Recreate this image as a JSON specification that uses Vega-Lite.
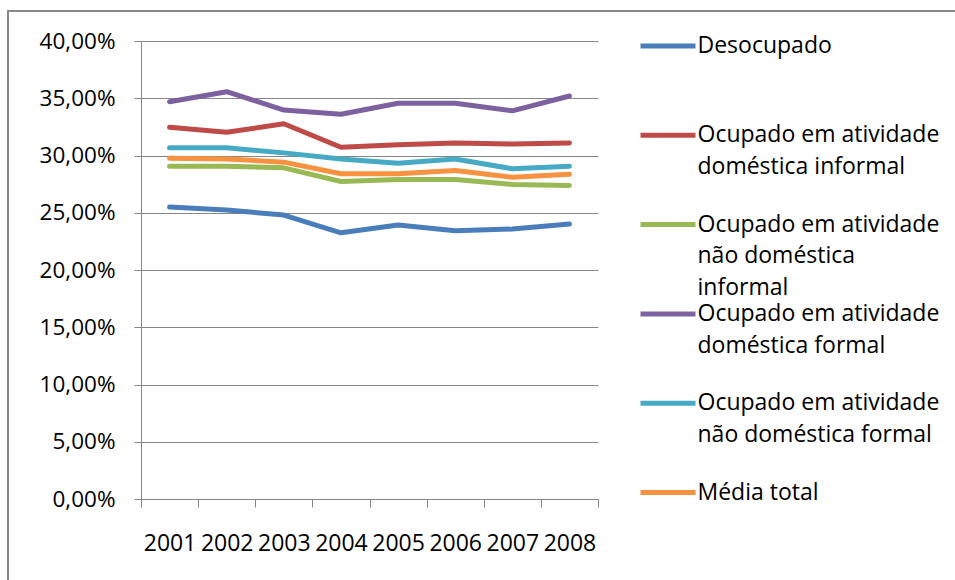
{
  "$schema": "https://vega.github.io/schema/vega-lite/v6.json",
  "width": 457,
  "height": 458,
  "autosize": {"type": "none"},
  "padding": {"left": 141, "top": 41, "right": 357, "bottom": 81},
  "background": "white",
  "config": {"font": "Open Sans", "view": {"stroke": null}, "style": {"guide-label": {"lineHeight": 31.7}}},
  "data": {
    "values": [
      {"ano": "2001", "categoria": "Desocupado", "valor": 25.5},
      {"ano": "2002", "categoria": "Desocupado", "valor": 25.24},
      {"ano": "2003", "categoria": "Desocupado", "valor": 24.8},
      {"ano": "2004", "categoria": "Desocupado", "valor": 23.25},
      {"ano": "2005", "categoria": "Desocupado", "valor": 23.93},
      {"ano": "2006", "categoria": "Desocupado", "valor": 23.43},
      {"ano": "2007", "categoria": "Desocupado", "valor": 23.58},
      {"ano": "2008", "categoria": "Desocupado", "valor": 24.01},
      {"ano": "2001", "categoria": "Ocupado em atividade doméstica informal", "valor": 32.47},
      {"ano": "2002", "categoria": "Ocupado em atividade doméstica informal", "valor": 32.03},
      {"ano": "2003", "categoria": "Ocupado em atividade doméstica informal", "valor": 32.77},
      {"ano": "2004", "categoria": "Ocupado em atividade doméstica informal", "valor": 30.72},
      {"ano": "2005", "categoria": "Ocupado em atividade doméstica informal", "valor": 30.93},
      {"ano": "2006", "categoria": "Ocupado em atividade doméstica informal", "valor": 31.1},
      {"ano": "2007", "categoria": "Ocupado em atividade doméstica informal", "valor": 31.0},
      {"ano": "2008", "categoria": "Ocupado em atividade doméstica informal", "valor": 31.1},
      {"ano": "2001", "categoria": "Ocupado em atividade não doméstica informal", "valor": 29.07},
      {"ano": "2002", "categoria": "Ocupado em atividade não doméstica informal", "valor": 29.07},
      {"ano": "2003", "categoria": "Ocupado em atividade não doméstica informal", "valor": 28.92},
      {"ano": "2004", "categoria": "Ocupado em atividade não doméstica informal", "valor": 27.73},
      {"ano": "2005", "categoria": "Ocupado em atividade não doméstica informal", "valor": 27.9},
      {"ano": "2006", "categoria": "Ocupado em atividade não doméstica informal", "valor": 27.9},
      {"ano": "2007", "categoria": "Ocupado em atividade não doméstica informal", "valor": 27.47},
      {"ano": "2008", "categoria": "Ocupado em atividade não doméstica informal", "valor": 27.38},
      {"ano": "2001", "categoria": "Ocupado em atividade doméstica formal", "valor": 34.7},
      {"ano": "2002", "categoria": "Ocupado em atividade doméstica formal", "valor": 35.57},
      {"ano": "2003", "categoria": "Ocupado em atividade doméstica formal", "valor": 33.97},
      {"ano": "2004", "categoria": "Ocupado em atividade doméstica formal", "valor": 33.6},
      {"ano": "2005", "categoria": "Ocupado em atividade doméstica formal", "valor": 34.56},
      {"ano": "2006", "categoria": "Ocupado em atividade doméstica formal", "valor": 34.56},
      {"ano": "2007", "categoria": "Ocupado em atividade doméstica formal", "valor": 33.9},
      {"ano": "2008", "categoria": "Ocupado em atividade doméstica formal", "valor": 35.2},
      {"ano": "2001", "categoria": "Ocupado em atividade não doméstica formal", "valor": 30.67},
      {"ano": "2002", "categoria": "Ocupado em atividade não doméstica formal", "valor": 30.67},
      {"ano": "2003", "categoria": "Ocupado em atividade não doméstica formal", "valor": 30.23},
      {"ano": "2004", "categoria": "Ocupado em atividade não doméstica formal", "valor": 29.7},
      {"ano": "2005", "categoria": "Ocupado em atividade não doméstica formal", "valor": 29.33},
      {"ano": "2006", "categoria": "Ocupado em atividade não doméstica formal", "valor": 29.7},
      {"ano": "2007", "categoria": "Ocupado em atividade não doméstica formal", "valor": 28.84},
      {"ano": "2008", "categoria": "Ocupado em atividade não doméstica formal", "valor": 29.07},
      {"ano": "2001", "categoria": "Média total", "valor": 29.77},
      {"ano": "2002", "categoria": "Média total", "valor": 29.7},
      {"ano": "2003", "categoria": "Média total", "valor": 29.42},
      {"ano": "2004", "categoria": "Média total", "valor": 28.4},
      {"ano": "2005", "categoria": "Média total", "valor": 28.4},
      {"ano": "2006", "categoria": "Média total", "valor": 28.69},
      {"ano": "2007", "categoria": "Média total", "valor": 28.1},
      {"ano": "2008", "categoria": "Média total", "valor": 28.36}
    ]
  },
  "layer": [
    {
      "mark": {"type": "line", "strokeWidth": 5, "strokeCap": "round", "strokeJoin": "round"},
      "encoding": {
        "x": {
          "field": "ano",
          "type": "ordinal",
          "scale": {"type": "band", "paddingInner": 0, "paddingOuter": 0},
          "axis": {
            "title": null,
            "tickBand": "extent",
            "grid": false,
            "domainColor": "#868686",
            "tickColor": "#868686",
            "tickSize": 8,
            "labelFontSize": 23,
            "labelColor": "black",
            "labelPadding": 25,
            "labelAngle": 0
          }
        },
        "y": {
          "field": "valor",
          "type": "quantitative",
          "scale": {"domain": [0, 40]},
          "axis": {
            "title": null,
            "values": [0, 5, 10, 15, 20, 25, 30, 35, 40],
            "labelExpr": "replace(format(datum.value, '.2f'), '.', ',') + '%'",
            "grid": true,
            "gridColor": "#868686",
            "domainColor": "#868686",
            "tickColor": "#868686",
            "tickSize": 7,
            "labelFontSize": 22.5,
            "labelColor": "black",
            "labelPadding": 19
          }
        },
        "color": {
          "field": "categoria",
          "type": "nominal",
          "sort": null,
          "scale": {
            "domain": [
              "Desocupado",
              "Ocupado em atividade doméstica informal",
              "Ocupado em atividade não doméstica informal",
              "Ocupado em atividade doméstica formal",
              "Ocupado em atividade não doméstica formal",
              "Média total"
            ],
            "range": ["#4A7EBB", "#BE4B48", "#98B954", "#7D60A0", "#46AAC5", "#F69240"]
          },
          "legend": {
            "orient": "none",
            "legendX": 495.5,
            "legendY": -6.5,
            "title": null,
            "padding": 0,
            "symbolType": "M-3.2353,0H3.2353",
            "symbolSize": 289,
            "symbolStrokeWidth": 5,
            "symbolOffset": 20,
            "labelFontSize": 23,
            "labelBaseline": "middle",
            "labelOffset": 18,
            "labelLimit": 500,
            "labelColor": "black",
            "rowPadding": 2.3,
            "labelExpr": "datum.label == 'Desocupado' ? ['Desocupado', ' ', ' '] : datum.label == 'Ocupado em atividade doméstica informal' ? ['Ocupado em atividade', 'doméstica informal', ' '] : datum.label == 'Ocupado em atividade não doméstica informal' ? ['Ocupado em atividade', 'não doméstica', 'informal'] : datum.label == 'Ocupado em atividade doméstica formal' ? ['Ocupado em atividade', 'doméstica formal', ' '] : datum.label == 'Ocupado em atividade não doméstica formal' ? ['Ocupado em atividade', 'não doméstica formal', ' '] : ['Média total', ' ', ' ']"
          }
        }
      }
    },
    {
      "data": {"values": [{"moldura": "borda do gráfico"}]},
      "mark": {"type": "point", "opacity": 0, "filled": false},
      "encoding": {
        "shape": {
          "field": "moldura",
          "type": "nominal",
          "scale": {"range": ["M-1,1V-1H1"]},
          "legend": {
            "orient": "none",
            "legendX": -134,
            "legendY": -31,
            "title": null,
            "padding": 0,
            "symbolSize": 1440000,
            "symbolStrokeWidth": 2,
            "symbolStrokeColor": "#888888",
            "symbolFillColor": "transparent",
            "symbolOpacity": 1,
            "labelExpr": "''",
            "labelFontSize": 10
          }
        }
      }
    }
  ]
}
